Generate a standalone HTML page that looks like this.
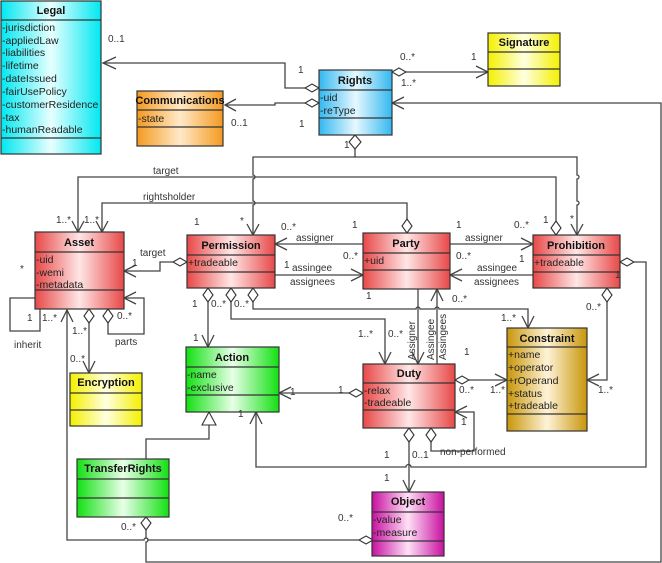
<!DOCTYPE html>
<html><head><meta charset="utf-8"><style>
html,body{margin:0;padding:0;background:#fff;}
svg{display:block;font-family:"Liberation Sans",sans-serif;}
.t{font-size:11px;font-weight:bold;text-anchor:middle;fill:#111;}
.a{font-size:10.5px;fill:#222;}
.l{font-size:10px;fill:#333;}
.ln{fill:none;stroke:#444;stroke-width:1.3;}
.bx{stroke:#333;stroke-width:1.2;}
.dm{fill:#fff;stroke:#333;stroke-width:1.1;}
</style></head><body>
<svg width="662" height="563" viewBox="0 0 662 563" xmlns="http://www.w3.org/2000/svg">
<defs>
<linearGradient id="gc" x1="0" x2="1"><stop offset="0" stop-color="#00e8f0"/><stop offset=".5" stop-color="#e8ffff"/><stop offset="1" stop-color="#00e8f0"/></linearGradient>
<linearGradient id="gb" x1="0" x2="1"><stop offset="0" stop-color="#33b8f0"/><stop offset=".5" stop-color="#e6f8ff"/><stop offset="1" stop-color="#33b8f0"/></linearGradient>
<linearGradient id="go" x1="0" x2="1"><stop offset="0" stop-color="#f49a20"/><stop offset=".5" stop-color="#ffe9c8"/><stop offset="1" stop-color="#f49a20"/></linearGradient>
<linearGradient id="gy" x1="0" x2="1"><stop offset="0" stop-color="#f4f000"/><stop offset=".5" stop-color="#ffffe0"/><stop offset="1" stop-color="#f4f000"/></linearGradient>
<linearGradient id="gr" x1="0" x2="1"><stop offset="0" stop-color="#e84848"/><stop offset=".5" stop-color="#ffe6e6"/><stop offset="1" stop-color="#e84848"/></linearGradient>
<linearGradient id="gg" x1="0" x2="1"><stop offset="0" stop-color="#12e012"/><stop offset=".5" stop-color="#e8ffe8"/><stop offset="1" stop-color="#12e012"/></linearGradient>
<linearGradient id="gk" x1="0" x2="1"><stop offset="0" stop-color="#c8960a"/><stop offset=".5" stop-color="#fff3d8"/><stop offset="1" stop-color="#c8960a"/></linearGradient>
<linearGradient id="gm" x1="0" x2="1"><stop offset="0" stop-color="#c810a0"/><stop offset=".5" stop-color="#ffe0f6"/><stop offset="1" stop-color="#c810a0"/></linearGradient>
</defs>

<g class="ln">
<polyline points="305,88 285,88 285,63 103,63"/><polyline points="116,57 103,63 116,69"/>
<polyline points="305,103 275,103 275,105 225,105"/><polyline points="236,99 225,105 236,111"/>
<polyline points="406,72 488,72"/><polyline points="476,66 488,72 476,78"/>
<path d="M146,530 L146,538 A2,2 0 0 1 146,542 L146,562 L661,562 L661,103 L392,103"/>
<polyline points="404,97 392,103 404,109"/>
<path d="M256,412 L256,467 L406,467 A2.5,2.5 0 0 1 411,467 L646,467 L646,262 L634,262"/>
<polyline points="250,424 256,412 262,424"/>
<path d="M355,149 L355,157 L253,157 L253,175 A2,2 0 0 1 253,179 L253,201 A2,2 0 0 1 253,205 L253,235"/>
<path d="M355,157 L577,157 L577,175 A2,2 0 0 1 577,179 L577,201 A2,2 0 0 1 577,205 L577,235"/>
<polyline points="247,224 253,235 259,224"/><polyline points="571,224 577,235 583,224"/>
<polyline points="556,221 556,177 78,177 78,232"/><polyline points="72,221 78,232 84,221"/>
<polyline points="407,219 407,203 102,203 102,232"/><polyline points="96,221 102,232 108,221"/>
<polyline points="173,262 160,262 160,271 124,271"/><polyline points="136,265 124,271 136,277"/>
<polyline points="363,244 275,244"/><polyline points="287,238 275,244 287,250"/>
<polyline points="275,275 363,275"/><polyline points="351,269 363,275 351,281"/>
<polyline points="450,244 533,244"/><polyline points="521,238 533,244 521,250"/>
<polyline points="533,275 450,275"/><polyline points="462,269 450,275 462,281"/>
<polyline points="418,289 418,364"/><polyline points="412,352 418,364 424,352"/>
<polyline points="437,364 437,289"/><polyline points="431,301 437,289 443,301"/>
<polyline points="208,302 208,347"/><polyline points="202,335 208,347 214,335"/>
<polyline points="231,302 231,319 385,319 385,364"/><polyline points="379,352 385,364 391,352"/>
<path d="M253,302 L253,309 L416,309 A2,2 0 0 1 420,309 L435,309 A2,2 0 0 1 439,309 L528,309 L528,328"/>
<polyline points="522,316 528,328 534,316"/>
<polyline points="607,302 607,380 587,380"/><polyline points="599,374 587,380 599,386"/>
<polyline points="469,380 507,380"/><polyline points="495,374 507,380 495,386"/>
<polyline points="349,393 279,393"/><polyline points="291,387 279,393 291,399"/>
<polyline points="409,442 409,492"/><polyline points="403,480 409,492 415,480"/>
<polyline points="431,442 431,451 474,451 474,412 455,412"/><polyline points="467,406 455,412 467,418"/>
<polyline points="146,459 146,439 209,439 209,425"/>
<path d="M67,310 L67,540 L144,540 A2,2 0 0 1 148,540 L359,540"/>
<polyline points="61,322 67,310 73,322"/>
<polyline points="35,298 10,298 10,331 40,331 40,309"/>
<polyline points="108,323 108,334 144,334 144,298 124,298"/><polyline points="136,292 124,298 136,304"/>
<polyline points="89,323 89,373"/><polyline points="83,361 89,373 95,361"/>
</g>
<polygon points="209,412 202,425 216,425" class="dm"/>

<g class="dm">
<polygon points="319,88 312,84 305,88 312,92"/>
<polygon points="319,103 312,99 305,103 312,107"/>
<polygon points="392,72 399,68 406,72 399,76"/>
<polygon points="355,135 349,142 355,149 361,142"/>
<polygon points="187,262 180,258 173,262 180,266"/>
<polygon points="407,233 402,226 407,219 412,226"/>
<polygon points="556,235 551,228 556,221 561,228"/>
<polygon points="208,288 203,295 208,302 213,295"/>
<polygon points="231,288 226,295 231,302 236,295"/>
<polygon points="253,288 248,295 253,302 258,295"/>
<polygon points="607,288 602,295 607,302 612,295"/>
<polygon points="620,262 627,258 634,262 627,266"/>
<polygon points="455,380 462,376 469,380 462,384"/>
<polygon points="363,393 356,389 349,393 356,397"/>
<polygon points="409,428 404,435 409,442 414,435"/>
<polygon points="431,428 426,435 431,442 436,435"/>
<polygon points="89,309 84,316 89,323 94,316"/>
<polygon points="108,309 103,316 108,323 113,316"/>
<polygon points="146,517 141,523 146,530 151,523"/>
<polygon points="373,540 366,536 359,540 366,544"/>
</g>

<g class="bx">
<rect x="1" y="1" width="100" height="153" fill="url(#gc)"/><line x1="1" y1="20" x2="101" y2="20"/><line x1="1" y1="138" x2="101" y2="138"/>
<rect x="488" y="33" width="72" height="53" fill="url(#gy)"/><line x1="488" y1="52" x2="560" y2="52"/><line x1="488" y1="69" x2="560" y2="69"/>
<rect x="319" y="70" width="73" height="65" fill="url(#gb)"/><line x1="319" y1="90" x2="392" y2="90"/><line x1="319" y1="118" x2="392" y2="118"/>
<rect x="137" y="91" width="86" height="55" fill="url(#go)"/><line x1="137" y1="110" x2="223" y2="110"/><line x1="137" y1="127" x2="223" y2="127"/>
<rect x="35" y="232" width="89" height="77" fill="url(#gr)"/><line x1="35" y1="252" x2="124" y2="252"/><line x1="35" y1="290" x2="124" y2="290"/>
<rect x="187" y="235" width="88" height="53" fill="url(#gr)"/><line x1="187" y1="255" x2="275" y2="255"/><line x1="187" y1="272" x2="275" y2="272"/>
<rect x="363" y="233" width="87" height="56" fill="url(#gr)"/><line x1="363" y1="253" x2="450" y2="253"/><line x1="363" y1="270" x2="450" y2="270"/>
<rect x="533" y="235" width="87" height="53" fill="url(#gr)"/><line x1="533" y1="255" x2="620" y2="255"/><line x1="533" y1="272" x2="620" y2="272"/>
<rect x="507" y="328" width="80" height="103" fill="url(#gk)"/><line x1="507" y1="347" x2="587" y2="347"/><line x1="507" y1="414" x2="587" y2="414"/>
<rect x="186" y="347" width="93" height="65" fill="url(#gg)"/><line x1="186" y1="367" x2="279" y2="367"/><line x1="186" y1="395" x2="279" y2="395"/>
<rect x="363" y="364" width="92" height="64" fill="url(#gr)"/><line x1="363" y1="383" x2="455" y2="383"/><line x1="363" y1="410" x2="455" y2="410"/>
<rect x="70" y="373" width="72" height="53" fill="url(#gy)"/><line x1="70" y1="393" x2="142" y2="393"/><line x1="70" y1="410" x2="142" y2="410"/>
<rect x="77" y="459" width="92" height="58" fill="url(#gg)"/><line x1="77" y1="479" x2="169" y2="479"/><line x1="77" y1="498" x2="169" y2="498"/>
<rect x="372" y="492" width="72" height="64" fill="url(#gm)"/><line x1="372" y1="512" x2="444" y2="512"/><line x1="372" y1="541" x2="444" y2="541"/>
</g>

<text class="t" x="51" y="14">Legal</text>
<text class="t" x="524" y="46">Signature</text>
<text class="t" x="355" y="84">Rights</text>
<text class="t" x="180" y="104">Communications</text>
<text class="t" x="79" y="246">Asset</text>
<text class="t" x="231" y="249">Permission</text>
<text class="t" x="406" y="247">Party</text>
<text class="t" x="576" y="249">Prohibition</text>
<text class="t" x="547" y="342">Constraint</text>
<text class="t" x="232" y="361">Action</text>
<text class="t" x="409" y="377">Duty</text>
<text class="t" x="106" y="386">Encryption</text>
<text class="t" x="123" y="472">TransferRights</text>
<text class="t" x="408" y="505">Object</text>

<g class="a">
<text x="2" y="31">-jurisdiction</text><text x="2" y="44">-appliedLaw</text><text x="2" y="56">-liabilities</text><text x="2" y="69">-lifetime</text><text x="2" y="82">-dateIssued</text><text x="2" y="95">-fairUsePolicy</text><text x="2" y="108">-customerResidence</text><text x="2" y="121">-tax</text><text x="2" y="133">-humanReadable</text>
<text x="320" y="101">-uid</text><text x="320" y="114">-reType</text>
<text x="138" y="122">-state</text>
<text x="36" y="263">-uid</text><text x="36" y="276">-wemi</text><text x="36" y="288">-metadata</text>
<text x="188" y="266">+tradeable</text>
<text x="364" y="264">+uid</text>
<text x="534" y="266">+tradeable</text>
<text x="508" y="358">+name</text><text x="508" y="371">+operator</text><text x="508" y="384">+rOperand</text><text x="508" y="397">+status</text><text x="508" y="409">+tradeable</text>
<text x="187" y="378">-name</text><text x="187" y="391">-exclusive</text>
<text x="364" y="394">-relax</text><text x="364" y="406">-tradeable</text>
<text x="373" y="523">-value</text><text x="373" y="536">-measure</text>
</g>

<g class="l">
<text x="108" y="42">0..1</text><text x="298" y="73">1</text>
<text x="231" y="126">0..1</text><text x="299" y="127">1</text>
<text x="400" y="60">0..*</text><text x="471" y="60">1</text><text x="401" y="86">1..*</text>
<text x="344" y="148">1</text>
<text x="153" y="174">target</text><text x="143" y="200">rightsholder</text>
<text x="56" y="223">1..*</text><text x="84" y="223">1..*</text>
<text x="194" y="225">1</text><text x="240" y="224">*</text><text x="281" y="230">0..*</text><text x="352" y="228">1</text>
<text x="456" y="228">1</text><text x="514" y="228">0..*</text><text x="543" y="223">1</text><text x="570" y="222">*</text>
<text x="296" y="241">assigner</text><text x="465" y="241">assigner</text>
<text x="140" y="256">target</text><text x="132" y="266">1</text><text x="20" y="272">*</text>
<text x="284" y="268">1</text><text x="343" y="259">0..*</text><text x="456" y="259">0..*</text><text x="519" y="262">1</text>
<text x="292" y="271">assingee</text><text x="290" y="285">assignees</text>
<text x="477" y="271">assingee</text><text x="474" y="285">assignees</text>
<text x="366" y="299">1</text><text x="452" y="302">0..*</text><text x="615" y="278">1</text>
<text x="192" y="307">1</text><text x="211" y="307">0..*</text><text x="234" y="307">0..*</text>
<text x="586" y="310">0..*</text><text x="501" y="321">1..*</text>
<text x="27" y="321">1</text><text x="42" y="321">1..*</text><text x="117" y="319">0..*</text>
<text x="72" y="334">1..*</text><text x="70" y="362">0..*</text>
<text x="14" y="348">inherit</text><text x="115" y="345">parts</text>
<text x="193" y="341">1</text><text x="358" y="337">1..*</text><text x="388" y="337">0..*</text><text x="464" y="355">1</text>
<text x="290" y="395">1</text><text x="338" y="393">1</text>
<text x="459" y="393">0..*</text><text x="490" y="393">1..*</text><text x="598" y="393">1..*</text>
<text x="238" y="417">1</text><text x="461" y="425">1</text>
<text x="384" y="458">1</text><text x="412" y="458">0..1</text><text x="440" y="455">non-performed</text>
<text x="384" y="481">1</text>
<text x="121" y="530">0..*</text><text x="338" y="521">0..*</text>
<text transform="translate(415,360) rotate(-90)">Assigner</text>
<text transform="translate(434,360) rotate(-90)">Assingee</text>
<text transform="translate(446,360) rotate(-90)">Assingees</text>
</g>
</svg>
</body></html>
